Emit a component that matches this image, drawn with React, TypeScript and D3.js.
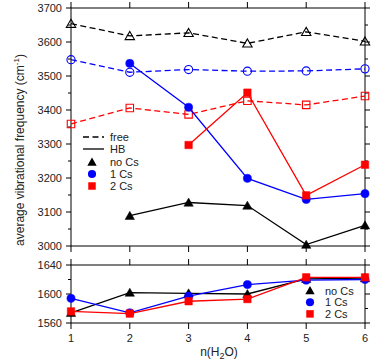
import React from "react";
import * as d3 from "d3";

// n(H2O) values
const nWater = [1, 2, 3, 4, 5, 6];

// free OH stretch (dashed, open markers)
const freeNoCs = [3654, 3618, 3627, 3596, 3630, 3602];
const freeOneCs = [3548, 3511, 3519, 3514, 3515, 3521];
const freeTwoCs = [3359, 3406, 3387, 3427, 3415, 3441];

// H-bonded OH stretch (solid, filled markers); null = no point
const hbNoCs = [null, 3089, 3128, 3119, 3004, 3061];
const hbOneCs = [null, 3537, 3408, 3199, 3137, 3154];
const hbTwoCs = [null, null, 3297, 3451, 3149, 3239];

// bending mode (bottom panel)
const bendNoCs = [1574, 1602, 1601, 1600, 1621, 1622];
const bendOneCs = [1594, 1574, 1597, 1613, 1619, 1620];
const bendTwoCs = [1576, 1573, 1590, 1593, 1623, 1623];

const topTicks = [3000, 3100, 3200, 3300, 3400, 3500, 3600, 3700];
const bottomTicks = [1560, 1600, 1640];

const W = 374;
const H = 362;
const left = 71;
const right = 365;
const font = "'Liberation Sans', Arial, sans-serif";

const x = d3.scaleLinear().domain([1, 6]).range([left, right]);
const yTop = d3.scaleLinear().domain([3000, 3700]).range([246, 8]);
const yBot = d3.scaleLinear().domain([1560, 1640]).range([323, 265]);

type Shape = "triangle" | "circle" | "square";

const symbolPath = (shape: Shape) => {
  if (shape === "triangle") return d3.symbol().type(d3.symbolTriangle).size(38)()!;
  if (shape === "circle") return d3.symbol().type(d3.symbolCircle).size(52)()!;
  return d3.symbol().type(d3.symbolSquare).size(56)()!;
};

const Series = ({
  values,
  y,
  color,
  shape,
  open,
  dashed,
}: {
  values: (number | null)[];
  y: d3.ScaleLinear<number, number>;
  color: string;
  shape: Shape;
  open?: boolean;
  dashed?: boolean;
}) => {
  const pts = values
    .map((v, i) => ({ n: nWater[i], v }))
    .filter((d) => d.v !== null) as { n: number; v: number }[];
  const line = d3
    .line<{ n: number; v: number }>()
    .x((d) => x(d.n))
    .y((d) => y(d.v));
  const dy = shape === "triangle" ? 1 : 0;
  return (
    <g>
      <path
        d={line(pts)!}
        fill="none"
        stroke={color}
        strokeWidth={1.3}
        strokeDasharray={dashed ? "6,3.5" : undefined}
      />
      {pts.map((d, i) => (
        <path
          key={i}
          d={symbolPath(shape)}
          transform={`translate(${x(d.n)},${y(d.v) + dy})`}
          fill={open ? "none" : color}
          stroke={color}
          strokeWidth={open ? 1.1 : 0.5}
        />
      ))}
    </g>
  );
};

const Frame = ({
  y,
  major,
  minor,
  labels,
}: {
  y: d3.ScaleLinear<number, number>;
  major: number[];
  minor: number[];
  labels: boolean;
}) => {
  const [y0, y1] = y.range();
  return (
    <g stroke="#000" strokeWidth={1}>
      <rect x={left} y={y1} width={right - left} height={y0 - y1} fill="none" />
      {major.map((t) => (
        <g key={"M" + t}>
          <line x1={left - 5} x2={left} y1={y(t)} y2={y(t)} />
          <line x1={right} x2={right + 5} y1={y(t)} y2={y(t)} />
          {labels && (
            <text
              x={left - 9}
              y={y(t)}
              dy="0.35em"
              textAnchor="end"
              stroke="none"
              fill="#222"
              fontSize={11}
              fontFamily={font}
            >
              {t}
            </text>
          )}
        </g>
      ))}
      {minor.map((t) => (
        <g key={"m" + t}>
          <line x1={left - 3} x2={left} y1={y(t)} y2={y(t)} />
          <line x1={right} x2={right + 3} y1={y(t)} y2={y(t)} />
        </g>
      ))}
      {nWater.map((n) => (
        <g key={"x" + n}>
          <line x1={x(n)} x2={x(n)} y1={y1 - 6} y2={y1} />
          <line x1={x(n)} x2={x(n)} y1={y0} y2={y0 + 6} />
        </g>
      ))}
    </g>
  );
};

const App = () => {
  const legendItems = [
    { label: "no Cs", color: "#000", shape: "triangle" as Shape },
    { label: "1 Cs", color: "#0000ff", shape: "circle" as Shape },
    { label: "2 Cs", color: "#ff0000", shape: "square" as Shape },
  ];
  return (
    <svg width={W} height={H} style={{ position: "absolute", left: 0, top: 0 }}>
      <rect width={W} height={H} fill="#fff" />
      <Frame
        y={yTop}
        major={topTicks}
        minor={topTicks.slice(0, -1).map((t) => t + 50)}
        labels
      />
      <Frame y={yBot} major={bottomTicks} minor={[1580, 1620]} labels />

      {/* top panel */}
      <Series values={freeNoCs} y={yTop} color="#000" shape="triangle" open dashed />
      <Series values={freeOneCs} y={yTop} color="#0000ff" shape="circle" open dashed />
      <Series values={freeTwoCs} y={yTop} color="#ff0000" shape="square" open dashed />
      <Series values={hbNoCs} y={yTop} color="#000" shape="triangle" />
      <Series values={hbOneCs} y={yTop} color="#0000ff" shape="circle" />
      <Series values={hbTwoCs} y={yTop} color="#ff0000" shape="square" />

      {/* bottom panel */}
      <Series values={bendNoCs} y={yBot} color="#000" shape="triangle" />
      <Series values={bendOneCs} y={yBot} color="#0000ff" shape="circle" />
      <Series values={bendTwoCs} y={yBot} color="#ff0000" shape="square" />

      {/* top legend */}
      <g fontFamily={font} fontSize={11} fill="#222">
        <line x1={83} x2={104} y1={137} y2={137} stroke="#000" strokeWidth={1.3} strokeDasharray="6,3.5" />
        <text x={110} y={141}>free</text>
        <line x1={83} x2={104} y1={149} y2={149} stroke="#000" strokeWidth={1.3} />
        <text x={110} y={153}>HB</text>
        {legendItems.map((d, i) => (
          <g key={d.label}>
            <path
              d={symbolPath(d.shape)}
              transform={`translate(92,${162 + i * 12 + (d.shape === "triangle" ? 1 : 0)})`}
              fill={d.color}
            />
            <text x={110} y={166 + i * 12}>{d.label}</text>
          </g>
        ))}
      </g>

      {/* bottom legend */}
      <g fontFamily={font} fontSize={11} fill="#222">
        {legendItems.map((d, i) => (
          <g key={d.label}>
            <path
              d={symbolPath(d.shape)}
              transform={`translate(310,${290.5 + i * 11.7 + (d.shape === "triangle" ? 1 : 0)})`}
              fill={d.color}
            />
            <text x={325} y={294.5 + i * 11.7}>{d.label}</text>
          </g>
        ))}
      </g>

      {/* x tick labels */}
      <g fontFamily={font} fontSize={11} fill="#222" textAnchor="middle">
        {nWater.map((n) => (
          <text key={n} x={x(n)} y={342}>{n}</text>
        ))}
      </g>

      {/* axis titles */}
      <text x={219} y={356} textAnchor="middle" fontFamily={font} fontSize={12} fill="#222">
        n(H<tspan fontSize={9} dy={3}>2</tspan><tspan dy={-3}>O)</tspan>
      </text>
      <text
        transform="translate(24,150) rotate(-90)"
        textAnchor="middle"
        fontFamily={font}
        fontSize={12}
        fill="#222"
      >
        average vibrational frequency (cm<tspan fontSize={8} dy={-5}>-1</tspan><tspan dy={5}>)</tspan>
      </text>
    </svg>
  );
};

export default App;
